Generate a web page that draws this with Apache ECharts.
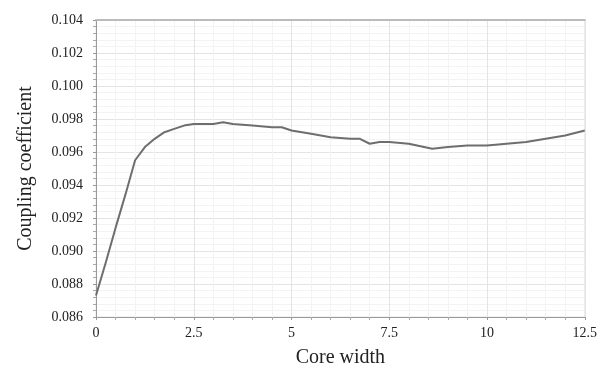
<!DOCTYPE html>
<html>
<head>
<meta charset="utf-8">
<script src="https://cdn.jsdelivr.net/npm/echarts@6/dist/echarts.min.js"></script>
<style>
  html, body { margin: 0; padding: 0; background: #fff; }
  #main { width: 600px; height: 373px; }
</style>
</head>
<body>
<div id="main"></div>
<script>
// core width samples and the coupling coefficient
const coreWidth = [0, 0.25, 0.5, 0.75, 1.0, 1.25, 1.5, 1.75, 2.0, 2.25, 2.5, 2.75, 3.0, 3.25, 3.5,
  4.0, 4.5, 4.75, 5.0, 5.5, 6.0, 6.5, 6.75, 7.0, 7.25, 7.5, 8.0, 8.6, 9.0, 9.5, 10.0,
  10.5, 11.0, 11.5, 12.0, 12.5];
const coupling = [0.0873, 0.0893, 0.0914, 0.0934, 0.0955, 0.0963, 0.0968, 0.0972, 0.0974, 0.0976, 0.0977, 0.0977, 0.0977, 0.0978, 0.0977,
  0.0976, 0.0975, 0.0975, 0.0973, 0.0971, 0.0969, 0.0968, 0.0968, 0.0965, 0.0966, 0.0966, 0.0965, 0.0962, 0.0963, 0.0964, 0.0964,
  0.0965, 0.0966, 0.0968, 0.0970, 0.0973];

const xTicks = { min: 0, max: 12.5, step: 2.5 };
const yTicks = { min: 0.086, max: 0.104, step: 0.002 };

const chart = echarts.init(document.getElementById('main'));

const font = '"Liberation Serif", "Times New Roman", serif';

chart.setOption({
  animation: false,
  textStyle: { fontFamily: font },
  grid: {
    left: 96, right: 12, top: 20, bottom: 50,
    show: true, borderColor: '#e4e4e4', borderWidth: 1
  },
  xAxis: [{
    type: 'value',
    min: xTicks.min, max: xTicks.max, interval: xTicks.step,
    name: 'Core width',
    nameLocation: 'middle',
    nameGap: 31,
    nameTextStyle: { fontSize: 20, color: '#222', fontFamily: font },
    axisLine: { lineStyle: { color: '#999', width: 1 } },
    axisTick: { show: true, length: 3, lineStyle: { color: '#999' } },
    minorTick: { show: true, splitNumber: 5, length: 3, lineStyle: { color: '#aaa' } },
    axisLabel: { fontSize: 14, color: '#222', fontFamily: font, margin: 9 },
    splitLine: { show: true, lineStyle: { color: '#e4e4e4' } },
    minorSplitLine: { show: true, lineStyle: { color: '#f3f3f3' } }
  }, {
    type: 'value',
    position: 'top',
    min: xTicks.min, max: xTicks.max, interval: xTicks.step,
    axisLine: { lineStyle: { color: '#bbb', width: 2 } },
    axisTick: { show: false },
    axisLabel: { show: false },
    splitLine: { show: false }
  }],
  yAxis: {
    type: 'value',
    min: yTicks.min, max: yTicks.max, interval: yTicks.step,
    name: 'Coupling coefficient',
    nameLocation: 'middle',
    nameGap: 60,
    nameTextStyle: { fontSize: 20, color: '#222', fontFamily: font },
    axisLine: { show: true, lineStyle: { color: '#999', width: 1 } },
    axisTick: { show: true, length: 3, lineStyle: { color: '#999' } },
    minorTick: { show: true, splitNumber: 5, length: 3, lineStyle: { color: '#aaa' } },
    axisLabel: {
      fontSize: 14, color: '#222', fontFamily: font, margin: 13,
      formatter: v => v.toFixed(3)
    },
    splitLine: { show: true, lineStyle: { color: '#e4e4e4' } },
    minorSplitLine: { show: true, lineStyle: { color: '#f3f3f3' } }
  },
  series: [{
    type: 'line',
    data: coreWidth.map((x, i) => [x, coupling[i]]),
    showSymbol: false,
    lineStyle: { color: '#6e6e6e', width: 2 }
  }]
});
</script>
</body>
</html>
